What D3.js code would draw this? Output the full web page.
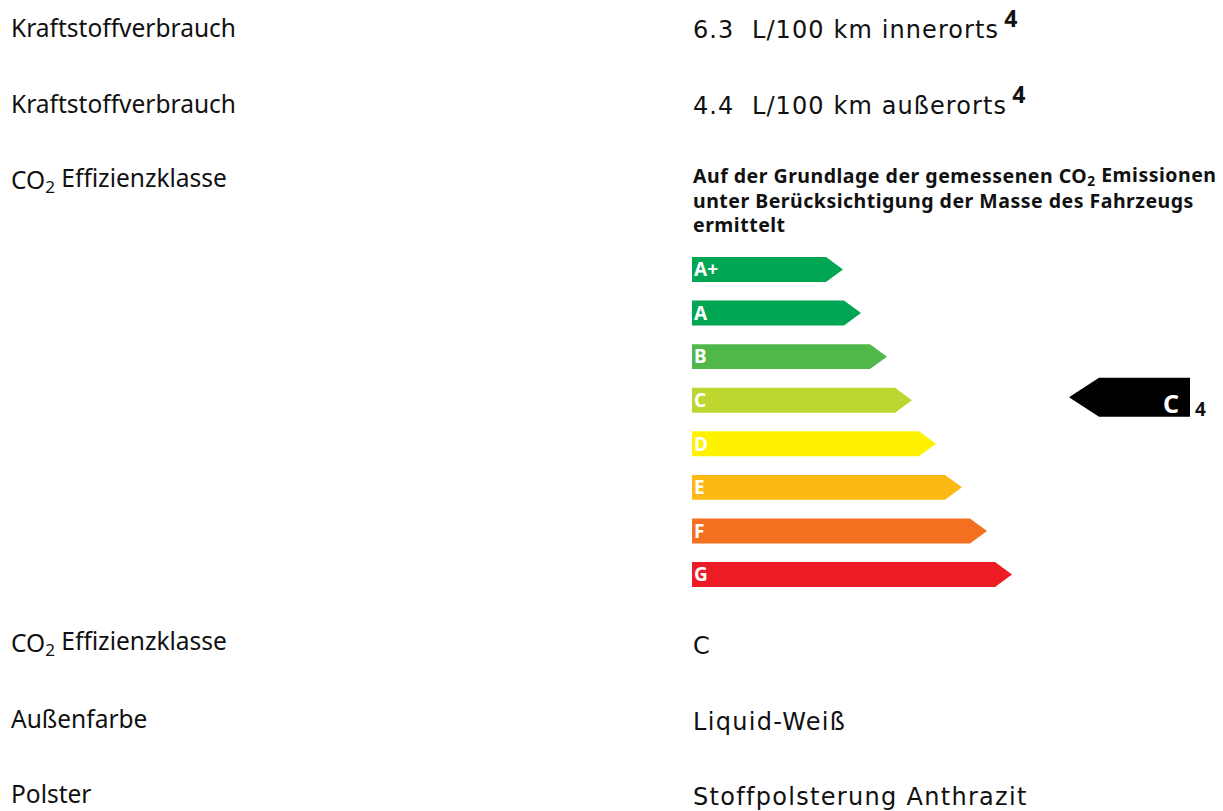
<!DOCTYPE html>
<html>
<head>
<meta charset="utf-8">
<script src="https://cdn.jsdelivr.net/npm/d3@7"></script>
<style>
  body { margin: 0; background: #fff; }
  text { font-family: "Noto Sans", sans-serif; fill: #111; }
  text.value { font-family: "DejaVu Sans", sans-serif; }
</style>
</head>
<body>
<div id="label_chart"></div>
<script>
// data
var energyClasses = ["A+", "A", "B", "C", "D", "E", "F", "G"];
var classLengths = [151, 169, 195, 220, 244, 270, 295, 320];
var classColors = ["#00a651", "#00a651", "#50b848", "#bed630", "#fff200", "#fdb913", "#f37021", "#ed1c24"];
var selectedClass = "C";
var footnote = "4";

var topLabels = ["Kraftstoffverbrauch", "Kraftstoffverbrauch", "CO2 Effizienzklasse"];
var topValues = ["6.3  L/100 km innerorts", "4.4  L/100 km außerorts"];
var headingLines = ["Auf der Grundlage der gemessenen CO2 Emissionen",
    "unter Berücksichtigung der Masse des Fahrzeugs", "ermittelt"];
var bottomLabels = ["CO2 Effizienzklasse", "Außenfarbe", "Polster"];
var bottomValues = ["C", "Liquid-Weiß", "Stoffpolsterung Anthrazit"];

var width = 1223, height = 811;
var leftX = 11, rightX = 693;

var svg = d3.select("#label_chart")
    .append("svg")
    .attr("width", width)
    .attr("height", height);

// writes text, turning "CO2" into CO with a subscript 2
function addText(sel, str) {
    var parts = str.split("CO2");
    parts.forEach(function (p, i) {
        if (i > 0) {
            sel.append("tspan").text("CO");
            sel.append("tspan").attr("font-size", "0.7em").attr("dy", "0.25em").text("2");
            sel.append("tspan").attr("dy", "-0.25em").text(p);
        } else {
            sel.append("tspan").text(p);
        }
    });
}

// left column labels
var topRowY = d3.scalePoint().domain(d3.range(topLabels.length)).range([37, 189]);
topLabels.forEach(function (d, i) {
    var t = svg.append("text")
        .attr("x", leftX)
        .attr("y", topRowY(i))
        .attr("font-size", 24.5);
    addText(t, d);
});

var bottomRowY = d3.scalePoint().domain(d3.range(bottomLabels.length)).range([652, 803]);
bottomLabels.forEach(function (d, i) {
    var t = svg.append("text")
        .attr("x", leftX)
        .attr("y", bottomRowY(i))
        .attr("font-size", 24.5);
    addText(t, d);
});

// right column values with footnote
topValues.forEach(function (d, i) {
    var t = svg.append("text")
        .attr("class", "value")
        .attr("x", rightX)
        .attr("y", topRowY(i) + 1)
        .attr("font-size", 24)
        .attr("letter-spacing", 1.1)
        .attr("xml:space", "preserve")
        .text(d);
    var w = t.node().getComputedTextLength();
    svg.append("text")
        .attr("x", rightX + w + 5)
        .attr("y", topRowY(i) - 10)
        .attr("font-size", 23)
        .attr("font-weight", "bold")
        .text(footnote);
});

bottomValues.forEach(function (d, i) {
    svg.append("text")
        .attr("class", "value")
        .attr("x", rightX)
        .attr("y", bottomRowY(i) + 2)
        .attr("font-size", 24)
        .attr("letter-spacing", 1.3)
        .text(d);
});

// heading above the scale
headingLines.forEach(function (d, i) {
    var t = svg.append("text")
        .attr("x", rightX)
        .attr("y", 183 + i * 24.5)
        .attr("font-size", 19.5)
        .attr("letter-spacing", 0.5)
        .attr("font-weight", "bold");
    addText(t, d);
});

// efficiency arrows
var y = d3.scaleBand()
    .domain(energyClasses)
    .range([257, 587])
    .paddingInner(0.427)
    .paddingOuter(0);

var x = d3.scaleLinear()
    .domain([0, d3.max(classLengths)])
    .range([0, 320]);

var tipW = 17;

function arrowRight(len, h) {
    var p = d3.path();
    p.moveTo(0, 0);
    p.lineTo(len - tipW, 0);
    p.lineTo(len, h / 2);
    p.lineTo(len - tipW, h);
    p.lineTo(0, h);
    p.closePath();
    return p.toString();
}

var bars = svg.append("g")
    .attr("transform", "translate(" + (rightX - 1) + ",0)");

var rows = bars.selectAll(".cls")
    .data(energyClasses)
    .enter()
    .append("g")
    .attr("class", "cls")
    .attr("transform", function (d) { return "translate(0," + y(d) + ")"; });

rows.append("path")
    .attr("d", function (d, i) { return arrowRight(x(classLengths[i]), y.bandwidth()); })
    .attr("fill", function (d, i) { return classColors[i]; });

rows.append("text")
    .attr("x", 2)
    .attr("y", y.bandwidth() / 2)
    .attr("dy", "0.36em")
    .attr("font-size", 19)
    .attr("font-weight", "bold")
    .style("fill", "#fff")
    .text(function (d) { return d; });

// black marker pointing at the selected class
var mH = 39, mLeft = 1069, mRight = 1190, mTip = 30;
var mY = y(selectedClass) + y.bandwidth() / 2 - mH / 2 - 3;
var mp = d3.path();
mp.moveTo(mLeft, mY + mH / 2);
mp.lineTo(mLeft + mTip, mY);
mp.lineTo(mRight, mY);
mp.lineTo(mRight, mY + mH);
mp.lineTo(mLeft + mTip, mY + mH);
mp.closePath();
svg.append("path").attr("d", mp.toString()).attr("fill", "#000");

svg.append("text")
    .attr("x", mRight - 11)
    .attr("y", mY + mH - 4)
    .attr("text-anchor", "end")
    .attr("font-size", 25)
    .attr("font-weight", "bold")
    .style("fill", "#fff")
    .text(selectedClass);

svg.append("text")
    .attr("x", mRight + 5)
    .attr("y", mY + mH - 1)
    .attr("font-size", 19)
    .attr("font-weight", "bold")
    .text(footnote);
</script>
</body>
</html>
